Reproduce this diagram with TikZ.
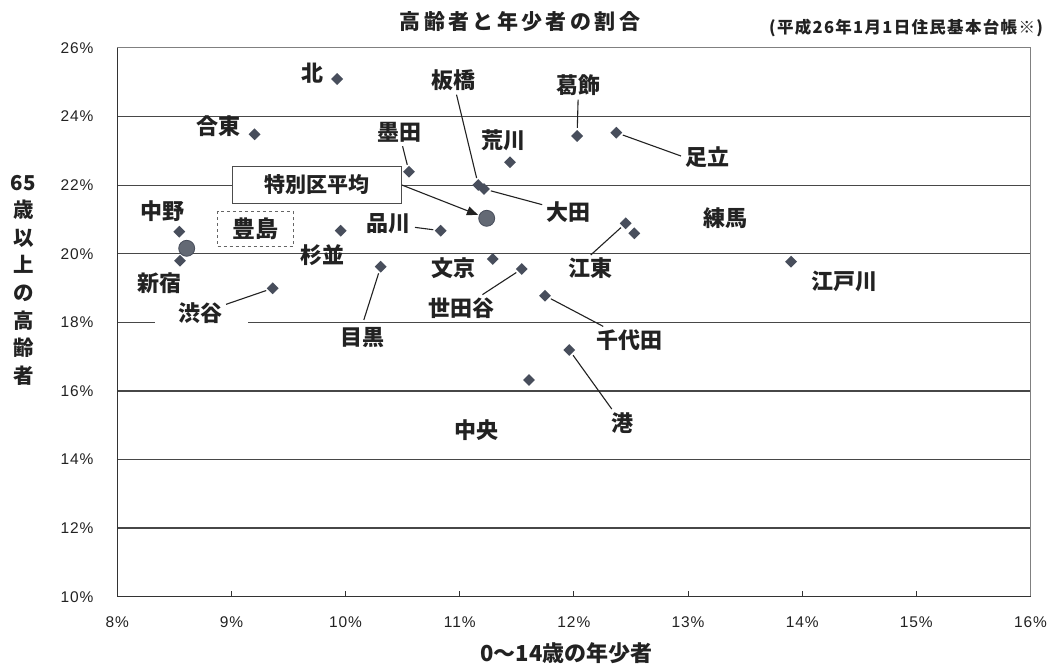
\documentclass[tikz,border=0pt]{standalone}
\usepackage{fontspec}
\setmainfont{Noto Sans CJK JP}
\newfontfamily\tickfont{Liberation Sans}[LetterSpace=6]
\newfontfamily\titlefont{Noto Sans CJK JP}[LetterSpace=16]
\newfontfamily\notefont{Noto Sans CJK JP}[LetterSpace=8]
\usetikzlibrary{shapes.geometric,arrows.meta}
\definecolor{mk}{RGB}{72,78,92}
\definecolor{ink}{RGB}{34,34,34}
\begin{document}
\begin{tikzpicture}[x=1pt,y=-1pt,
  pt/.style={diamond, fill=mk, minimum size=12pt, inner sep=0pt},
  bigpt/.style={circle, fill=mk!85, draw=mk, line width=0.8pt, minimum size=16pt, inner sep=0pt},
  lbl/.style={font=\fontsize{22}{24}\selectfont\bfseries, text=ink, inner sep=2pt},
  lead/.style={draw=ink, line width=1.1pt, shorten <=2pt, shorten >=2pt},
  gridl/.style={draw=black!72, line width=1.3pt},
  framel/.style={draw=black!50, line width=1pt},
  axisl/.style={draw=black!80, line width=1.3pt},
  ticklbl/.style={font=\tickfont\fontsize{15.5}{16}\selectfont, text=ink},
  boxlbl/.style={draw=black!70, fill=white, line width=1pt, text=ink, inner sep=0pt}]
\useasboundingbox[fill=white] (0,0) rectangle (1053,668);

% grid
\foreach \y in {116.6,185.2,253.8,391,459.5,528.1}
  \draw[gridl] (117.3,\y) -- (1030.5,\y);
\draw[gridl] (117.3,322.4) -- (155,322.4);
\draw[gridl] (248,322.4) -- (1030.5,322.4);
\draw[framel] (117.3,48) -- (1030.5,48) -- (1030.5,596.7);
\draw[axisl] (117.3,48) -- (117.3,596.7) -- (1030.5,596.7);
\foreach \i in {1,...,7}
  \draw[draw=black!80, line width=1pt] (117.3+114.15*\i,591) -- (117.3+114.15*\i,597);

% tick labels
\foreach \i/\t in {0/8,1/9,2/10,3/11,4/12,5/13,6/14,7/15,8/16}
  \node[ticklbl] (xt\i) at (117.3+114.15*\i,621.7) {\t\%};
\foreach \i/\t in {0/26,1/24,2/22,3/20,4/18,5/16,6/14,7/12,8/10}
  \node[ticklbl, anchor=east] (yt\i) at (97,48+68.59*\i) {\t\%};

% titles
\node[font=\titlefont\fontsize{21}{24}\selectfont\bfseries, text=ink] (title) at (519.9,21.7) {高齢者と年少者の割合};
\node[font=\notefont\fontsize{16.5}{18}\selectfont\bfseries, text=ink] (note) at (906,28.3) {(平成26年1月1日住民基本台帳※)};
\node[font=\fontsize{22}{24}\selectfont\bfseries, text=ink] (xtitle) at (566.4,653.3) {0〜14歳の年少者};
\node[font=\fontsize{20.5}{27.6}\selectfont\bfseries, text=ink, align=center] (ytitle) at (23.3,280) {65\\歳\\以\\上\\の\\高\\齢\\者};

% boxes
\node[boxlbl, font=\fontsize{21}{23}\selectfont\bfseries, minimum width=168.6pt, minimum height=36.6pt] (avgL) at (317,185) {特別区平均};
\node[boxlbl, font=\fontsize{23}{25}\selectfont\bfseries, dashed, draw=black!60, minimum width=75.6pt, minimum height=35pt, line width=0.9pt] (toshimaL) at (255.5,229.2) {豊島};

% points
\node[pt] (kita) at (337.1,79) {};
\node[pt] (taito) at (254.6,134.3) {};
\node[pt] (sumida) at (409,171.7) {};
\node[pt] (arakawa) at (510,162.3) {};
\node[pt] (katsushika) at (577.1,136) {};
\node[pt] (adachi) at (616.3,132.7) {};
\node[pt] (itabashi) at (478.3,185) {};
\node[pt] (ota) at (484,189) {};
\node[bigpt] (avg) at (486.7,218.3) {};
\node[pt] (shinagawa) at (440.7,230.7) {};
\node[pt] (suginami) at (340.7,230.7) {};
\node[pt] (nakano) at (179.3,231.7) {};
\node[bigpt] (toshima) at (186.7,248.3) {};
\node[pt] (shinjuku) at (180,260.7) {};
\node[pt] (bunkyo) at (492.7,259) {};
\node[pt] (setagaya) at (521.7,269) {};
\node[pt] (meguro) at (380.7,266.7) {};
\node[pt] (shibuya) at (272.7,288.3) {};
\node[pt] (koto) at (625.7,223.3) {};
\node[pt] (nerima) at (634.3,233.3) {};
\node[pt] (edogawa) at (791.1,261.7) {};
\node[pt] (chiyoda) at (545,295.7) {};
\node[pt] (minato) at (569.3,350) {};
\node[pt] (chuo) at (529,380) {};

% labels
\node[lbl] (kitaL) at (312.7,73) {北};
\node[lbl] (taitoL) at (218,126) {合東};
\node[lbl] (sumidaL) at (399,132) {墨田};
\node[lbl] (itabashiL) at (453,80) {板橋};
\node[lbl] (arakawaL) at (503.7,140) {荒川};
\node[lbl] (katsushikaL) at (578.5,85) {葛飾};
\node[lbl] (adachiL) at (707.1,156.7) {足立};
\node[lbl] (otaL) at (568.3,211.7) {大田};
\node[lbl] (nerimaL) at (725.8,218.3) {練馬};
\node[lbl] (kotoL) at (590,268.3) {江東};
\node[lbl] (edogawaL) at (844.8,281.7) {江戸川};
\node[lbl] (chiyodaL) at (629,340) {千代田};
\node[lbl] (minatoL) at (622,423.3) {港};
\node[lbl] (chuoL) at (476.7,430) {中央};
\node[lbl] (bunkyoL) at (453.3,268.3) {文京};
\node[lbl] (setagayaL) at (461.5,308.3) {世田谷};
\node[lbl] (meguroL) at (362,338) {目黒};
\node[lbl] (shibuyaL) at (200,313.3) {渋谷};
\node[lbl] (suginamiL) at (322.9,255) {杉並};
\node[lbl] (shinagawaL) at (388.8,224) {品川};
\node[lbl] (nakanoL) at (162,211) {中野};
\node[lbl] (shinjukuL) at (159.6,283.3) {新宿};

% leaders
\draw[lead] (sumidaL) -- (sumida);
\draw[lead] (itabashiL) -- (itabashi);
\draw[lead] (katsushikaL) -- (katsushika);
\draw[lead] (adachi) -- (adachiL.west);
\draw[lead] (ota) -- (otaL);
\draw[lead] (shinagawaL) -- (shinagawa);
\draw[lead] (setagaya) -- (setagayaL);
\draw[lead, shorten >=6pt] (meguro) -- (meguroL.north);
\draw[lead] (shibuya) -- (shibuyaL);
\draw[lead] (chiyoda) -- (chiyodaL);
\draw[lead] (minato) -- (minatoL);
\draw[lead, shorten >=1pt] (koto) -- (kotoL.north);
\draw[draw=ink, line width=1.1pt, -{Triangle[length=11pt,width=9pt]}, shorten >=1pt] (avgL.east) -- (avg);
\end{tikzpicture}
\end{document}
